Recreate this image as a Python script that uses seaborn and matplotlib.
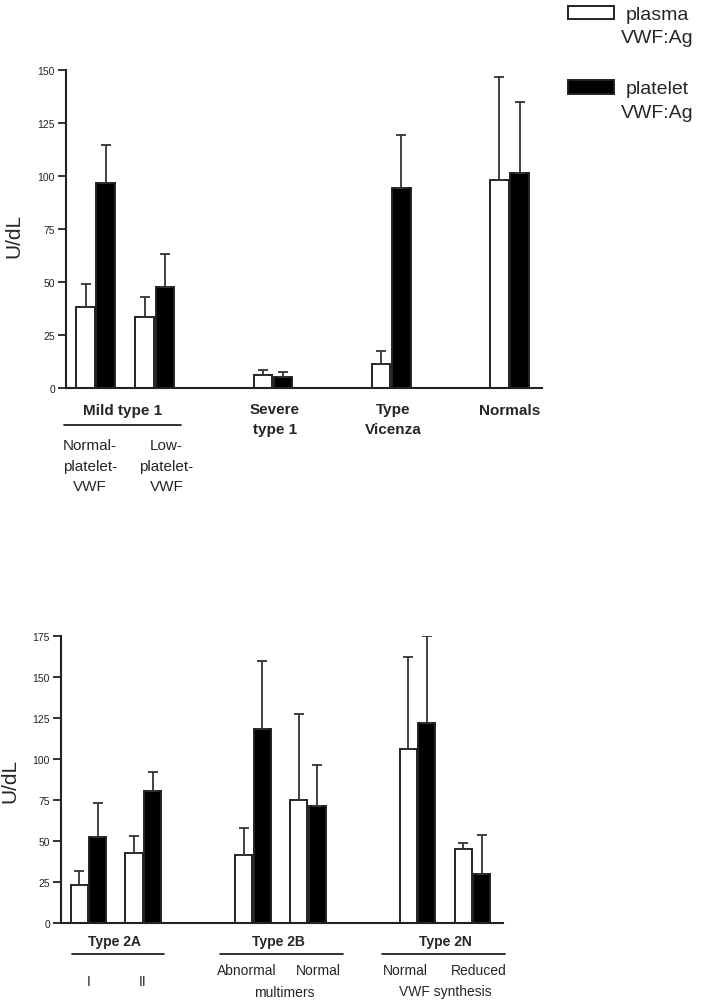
import pandas as pd
import numpy as np
import seaborn as sns
import matplotlib.pyplot as plt

sns.set_style("white")
plt.rcParams['font.family'] = ['Liberation Sans', 'DejaVu Sans']

# top panel: mild type 1 (normal / low platelet VWF), severe type 1, type Vicenza, normals
top_pos = [0, 1, 3, 5, 7]
top_plasma = [38.0, 33.5, 6.0, 11.0, 98.0]
top_plasma_sd = [11.0, 9.5, 2.4, 6.2, 48.4]
top_platelet = [96.5, 47.4, 5.0, 94.0, 101.4]
top_platelet_sd = [18.0, 15.6, 2.5, 25.0, 33.2]

# bottom panel: type 2A (I, II), type 2B (abnormal, normal), type 2N (normal, reduced)
bot_pos = [0, 1, 3, 4, 6, 7]
bot_plasma = [23.4, 42.5, 41.5, 75.1, 106.2, 45.2]
bot_plasma_sd = [8.1, 10.6, 16.7, 52.3, 56.4, 3.8]
bot_platelet = [52.7, 80.4, 118.2, 71.6, 121.9, 30.1]
bot_platelet_sd = [20.3, 11.8, 42.0, 24.9, 53.5, 23.6]

series = ["plasma\nVWF:Ag", "platelet\nVWF:Ag"]
colors = {series[0]: "white", series[1]: "black"}


def panel(ax, pos, plasma, plasma_sd, platelet, platelet_sd, ymax, ystep):
    df = pd.DataFrame({
        "x": pos + pos,
        "val": plasma + platelet,
        "serie": [series[0]] * len(pos) + [series[1]] * len(pos),
    })
    sns.barplot(data=df, x="x", y="val", hue="serie", hue_order=series, palette=colors,
                native_scale=True, width=0.68, gap=0.08, errorbar=None,
                edgecolor="#222222", linewidth=1.4, ax=ax)
    # upper-only SD error bars on top of each bar
    for cont, sd in zip(ax.containers, [plasma_sd, platelet_sd]):
        xs = [b.get_x() + b.get_width() / 2 for b in cont]
        hs = [b.get_height() for b in cont]
        ax.errorbar(xs, hs, yerr=[np.zeros(len(sd)), sd], fmt="none", ecolor="#333333",
                    elinewidth=1.3, capsize=3.6, capthick=1.3, zorder=1)
    ax.set_xlim(-0.5, 7.55)
    ax.set_ylim(0, ymax)
    ax.set_yticks(np.arange(0, ymax + 1, ystep))
    ax.set_xticks([])
    ax.set_xlabel("")
    ax.set_ylabel("U/dL", fontsize=15)
    ax.tick_params(axis="y", left=True, length=6, width=1.3, pad=2, labelsize=7.5, colors="#222222")
    for s in ["top", "right"]:
        ax.spines[s].set_visible(False)
    for s in ["left", "bottom"]:
        ax.spines[s].set_linewidth(1.5)
        ax.spines[s].set_color("#222222")
    ax.get_legend().remove()


def label(ax, x, y, txt, bold=False, size=11, ls=1.4):
    ax.annotate(txt, xy=(x, y), xycoords=("data", "axes fraction"), ha="center", va="center",
                fontsize=size, fontweight="bold" if bold else "normal", linespacing=ls,
                multialignment="center", annotation_clip=False)


def underline(ax, x0, x1, y):
    ax.plot([x0, x1], [y, y], color="#222222", lw=1.3, clip_on=False,
            transform=ax.get_xaxis_transform())


fig = plt.figure(figsize=(7.01, 10.03), dpi=100)
ax1 = fig.add_axes([0.0942, 0.6125, 0.679, 0.317])
ax2 = fig.add_axes([0.087, 0.0788, 0.630, 0.2858])

panel(ax1, top_pos, top_plasma, top_plasma_sd, top_platelet, top_platelet_sd, 150, 25)
panel(ax2, bot_pos, bot_plasma, bot_plasma_sd, bot_platelet, bot_platelet_sd, 175, 25)
ax1.yaxis.set_label_coords(-0.09, 0.48)
ax2.yaxis.set_label_coords(-0.095, 0.50)

# top panel group labels
label(ax1, 0.46, -0.069, "Mild type 1", bold=True)
underline(ax1, -0.53, 1.44, -0.116)
label(ax1, -0.1, -0.245, "Normal-\nplatelet-\nVWF", ls=1.6)
label(ax1, 1.2, -0.245, "Low-\nplatelet-\nVWF", ls=1.6)
label(ax1, 3.03, -0.098, "Severe\ntype 1", bold=True, ls=1.5)
label(ax1, 5.03, -0.098, "Type\nVicenza", bold=True, ls=1.5)
label(ax1, 7.0, -0.069, "Normals", bold=True)

# bottom panel group labels
label(ax2, 0.48, -0.062, "Type 2A", bold=True, size=10)
underline(ax2, -0.3, 1.37, -0.108)
label(ax2, 0.0, -0.201, "I", size=10)
label(ax2, 0.98, -0.201, "II", size=10)
label(ax2, 3.46, -0.062, "Type 2B", bold=True, size=10)
underline(ax2, 2.39, 4.64, -0.108)
label(ax2, 2.89, -0.163, "Abnormal", size=10)
label(ax2, 4.2, -0.163, "Normal", size=10)
label(ax2, 3.57, -0.242, "multimers", size=10)
label(ax2, 6.5, -0.062, "Type 2N", bold=True, size=10)
underline(ax2, 5.35, 7.59, -0.108)
label(ax2, 5.78, -0.163, "Normal", size=10)
label(ax2, 7.11, -0.163, "Reduced", size=10)
label(ax2, 6.5, -0.236, "VWF synthesis", size=10)

# legend at top right
handles = [ax1.containers[0][0], ax1.containers[1][0]]
leg = fig.legend(handles, series, loc="upper left", bbox_to_anchor=(0.81, 0.993),
                 frameon=False, fontsize=14, handlelength=2.4, handleheight=0.67,
                 handletextpad=0.33, labelspacing=1.75, borderpad=0, borderaxespad=0)
for t in leg.get_texts():
    t.set_multialignment("center")
    t.set_linespacing(1.48)
# put the patch next to the first text line instead of the middle of the block
for h in leg.legend_handles:
    h.set_y(h.get_y() + 9.5)

plt.savefig("out.png", dpi=100)
